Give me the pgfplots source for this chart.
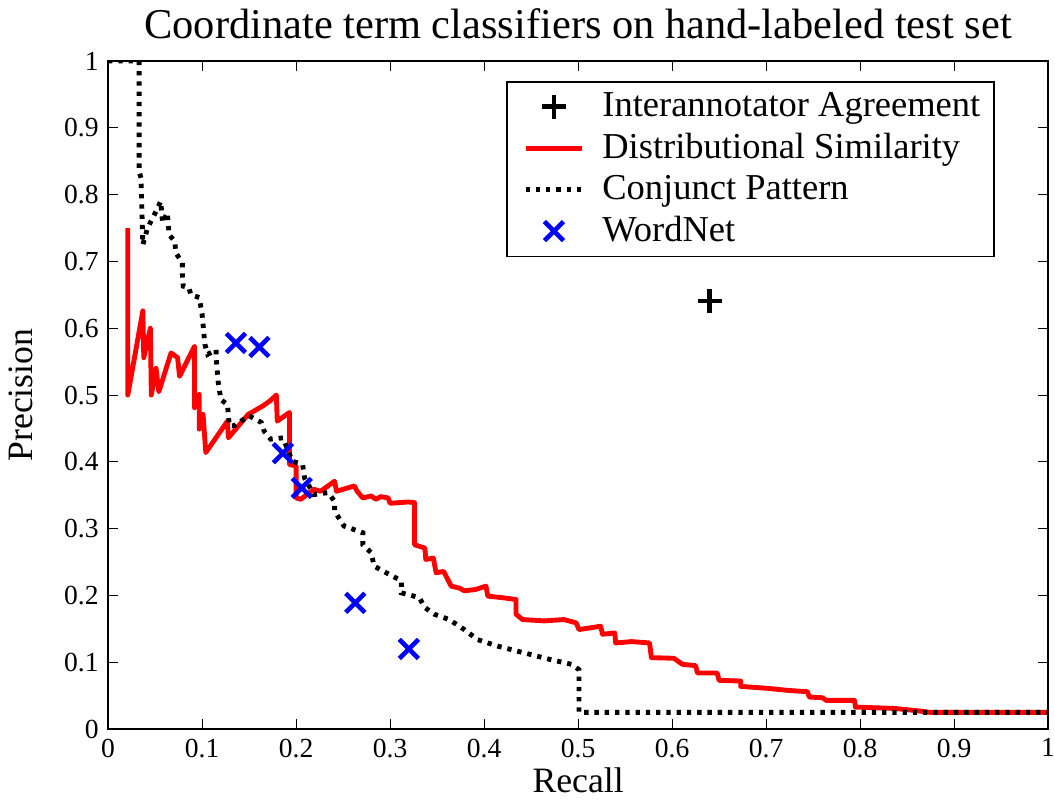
\documentclass[border=0pt]{standalone}
\usepackage{fontspec}
\setmainfont{Liberation Serif}
\newfontfamily\tickfont{Liberation Serif}
\usepackage{pgfplots}
\pgfplotsset{compat=1.18}

\definecolor{dsred}{RGB}{255,0,0}
\definecolor{wnblue}{RGB}{0,0,255}

\pgfplotsset{
  lineleg/.style={legend image code/.code={%
    \draw[##1] (0pt,0pt) -- (21pt,0pt);
    \path (-3pt,0pt) (21pt,0pt);}},
  markleg/.style={legend image code/.code={%
    \draw[##1] plot coordinates {(10.5pt,0pt)};
    \path (-3pt,0pt) (21pt,0pt);}},
}

\begin{document}
\begin{tikzpicture}
\begin{axis}[
  scale only axis,
  width=347.8pt, height=247.2pt,
  xmin=0, xmax=1, ymin=0, ymax=1,
  xtick={0,0.1,0.2,0.3,0.4,0.5,0.6,0.7,0.8,0.9,1},
  ytick={0,0.1,0.2,0.3,0.4,0.5,0.6,0.7,0.8,0.9,1},
  xticklabels={0,0.1,0.2,0.3,0.4,0.5,0.6,0.7,0.8,0.9,1},
  yticklabels={0,0.1,0.2,0.3,0.4,0.5,0.6,0.7,0.8,0.9,1},
  tick align=inside,
  major tick length=3.7pt,
  axis line style={line width=0.55pt},
  tick style={line width=0.4pt, black},
  tick label style={font=\tickfont\fontsize{10.2}{12}\selectfont},
  xticklabel style={inner xsep=0pt},
  yticklabel style={inner xsep=0pt, xshift=-3.3pt},
  xlabel={Recall}, ylabel={Precision},
  label style={font=\fontsize{13.2}{15}\selectfont},
  xlabel style={yshift=3pt},
  ylabel style={yshift=8pt},
  title={Coordinate term classifiers on hand-labeled test set},
  title style={font=\fontsize{15.7}{18}\selectfont, yshift=-1.5pt},
  legend cell align=left,
  legend style={at={(0.943,0.970)}, anchor=north east,
    draw=black, line width=0.55pt, font=\fontsize{13.5}{15.5}\selectfont,
    row sep=0.7pt, inner xsep=3pt, inner ysep=2pt,
    nodes={inner xsep=2pt},
    /tikz/every odd column/.append style={column sep=4.5pt}},
]
\addplot[only marks, mark=+, mark size=4.4pt, line width=1.7pt, black, markleg]
  coordinates {(0.640,0.641)};
\addlegendentry{Interannotator Agreement}

\addplot[dsred, line width=1.8pt, line join=round, lineleg]
  coordinates {
  (0.021,0.750) (0.021,0.500) (0.037,0.626) (0.038,0.556) (0.045,0.600)
  (0.046,0.500) (0.051,0.540) (0.054,0.505) (0.067,0.563) (0.074,0.556)
  (0.076,0.528) (0.092,0.573) (0.092,0.481) (0.097,0.501) (0.097,0.449)
  (0.101,0.471) (0.104,0.414) (0.127,0.461) (0.128,0.436) (0.149,0.471)
  (0.165,0.484) (0.172,0.491) (0.179,0.500) (0.180,0.461) (0.193,0.474)
  (0.193,0.396) (0.200,0.394) (0.200,0.346) (0.205,0.344) (0.219,0.359)
  (0.226,0.356) (0.241,0.371) (0.243,0.356) (0.262,0.364) (0.265,0.356)
  (0.271,0.346) (0.280,0.349) (0.285,0.344) (0.290,0.348) (0.298,0.346)
  (0.300,0.338) (0.319,0.340) (0.326,0.339) (0.326,0.276) (0.337,0.271)
  (0.338,0.254) (0.346,0.256) (0.349,0.234) (0.357,0.236) (0.365,0.214)
  (0.374,0.211) (0.379,0.207) (0.391,0.209) (0.402,0.214) (0.404,0.199)
  (0.418,0.197) (0.434,0.194) (0.434,0.172) (0.441,0.164) (0.464,0.162)
  (0.485,0.164) (0.498,0.159) (0.501,0.149) (0.524,0.154) (0.526,0.142)
  (0.539,0.144) (0.540,0.129) (0.557,0.131) (0.576,0.129) (0.578,0.107)
  (0.602,0.106) (0.611,0.097) (0.625,0.095) (0.627,0.084) (0.648,0.084)
  (0.650,0.073) (0.673,0.072) (0.673,0.064) (0.702,0.061) (0.723,0.058)
  (0.744,0.056) (0.746,0.048) (0.760,0.047) (0.764,0.043) (0.794,0.043)
  (0.795,0.033) (0.836,0.031) (0.858,0.028) (0.875,0.025) (1.000,0.025)
  };
\addlegendentry{Distributional Similarity}

\addplot[black, line width=1.8pt, dash pattern=on 1.6pt off 2.2pt, lineleg]
  coordinates {
  (0.000,1.000) (0.033,1.000) (0.033,0.835) (0.035,0.825) (0.037,0.725)
  (0.042,0.750) (0.051,0.775) (0.056,0.790) (0.058,0.758) (0.063,0.773)
  (0.065,0.740) (0.071,0.730) (0.072,0.713) (0.079,0.698) (0.079,0.680)
  (0.080,0.663) (0.086,0.661) (0.088,0.650) (0.097,0.646) (0.100,0.621)
  (0.103,0.576) (0.106,0.561) (0.115,0.568) (0.115,0.556) (0.117,0.521)
  (0.120,0.493) (0.127,0.486) (0.129,0.454) (0.134,0.454) (0.150,0.469)
  (0.163,0.459) (0.166,0.446) (0.173,0.434) (0.186,0.436) (0.196,0.401)
  (0.207,0.396) (0.209,0.376) (0.219,0.351) (0.234,0.354) (0.241,0.341)
  (0.241,0.326) (0.251,0.304) (0.271,0.294) (0.271,0.276) (0.280,0.264)
  (0.283,0.244) (0.296,0.234) (0.312,0.222) (0.312,0.204) (0.331,0.197)
  (0.337,0.182) (0.347,0.172) (0.363,0.164) (0.379,0.149) (0.393,0.134)
  (0.415,0.124) (0.443,0.114) (0.471,0.104) (0.493,0.097) (0.501,0.089)
  (0.501,0.025) (1.000,0.025)
  };
\addlegendentry{Conjunct Pattern}

\addplot[only marks, mark=x, mark size=5pt, line width=1.7pt, wnblue, markleg]
  coordinates {
  (0.136,0.578) (0.161,0.572) (0.186,0.413) (0.206,0.361) (0.263,0.189)
  (0.320,0.120)
  };
\addlegendentry{WordNet}
\end{axis}
\end{tikzpicture}
\end{document}
